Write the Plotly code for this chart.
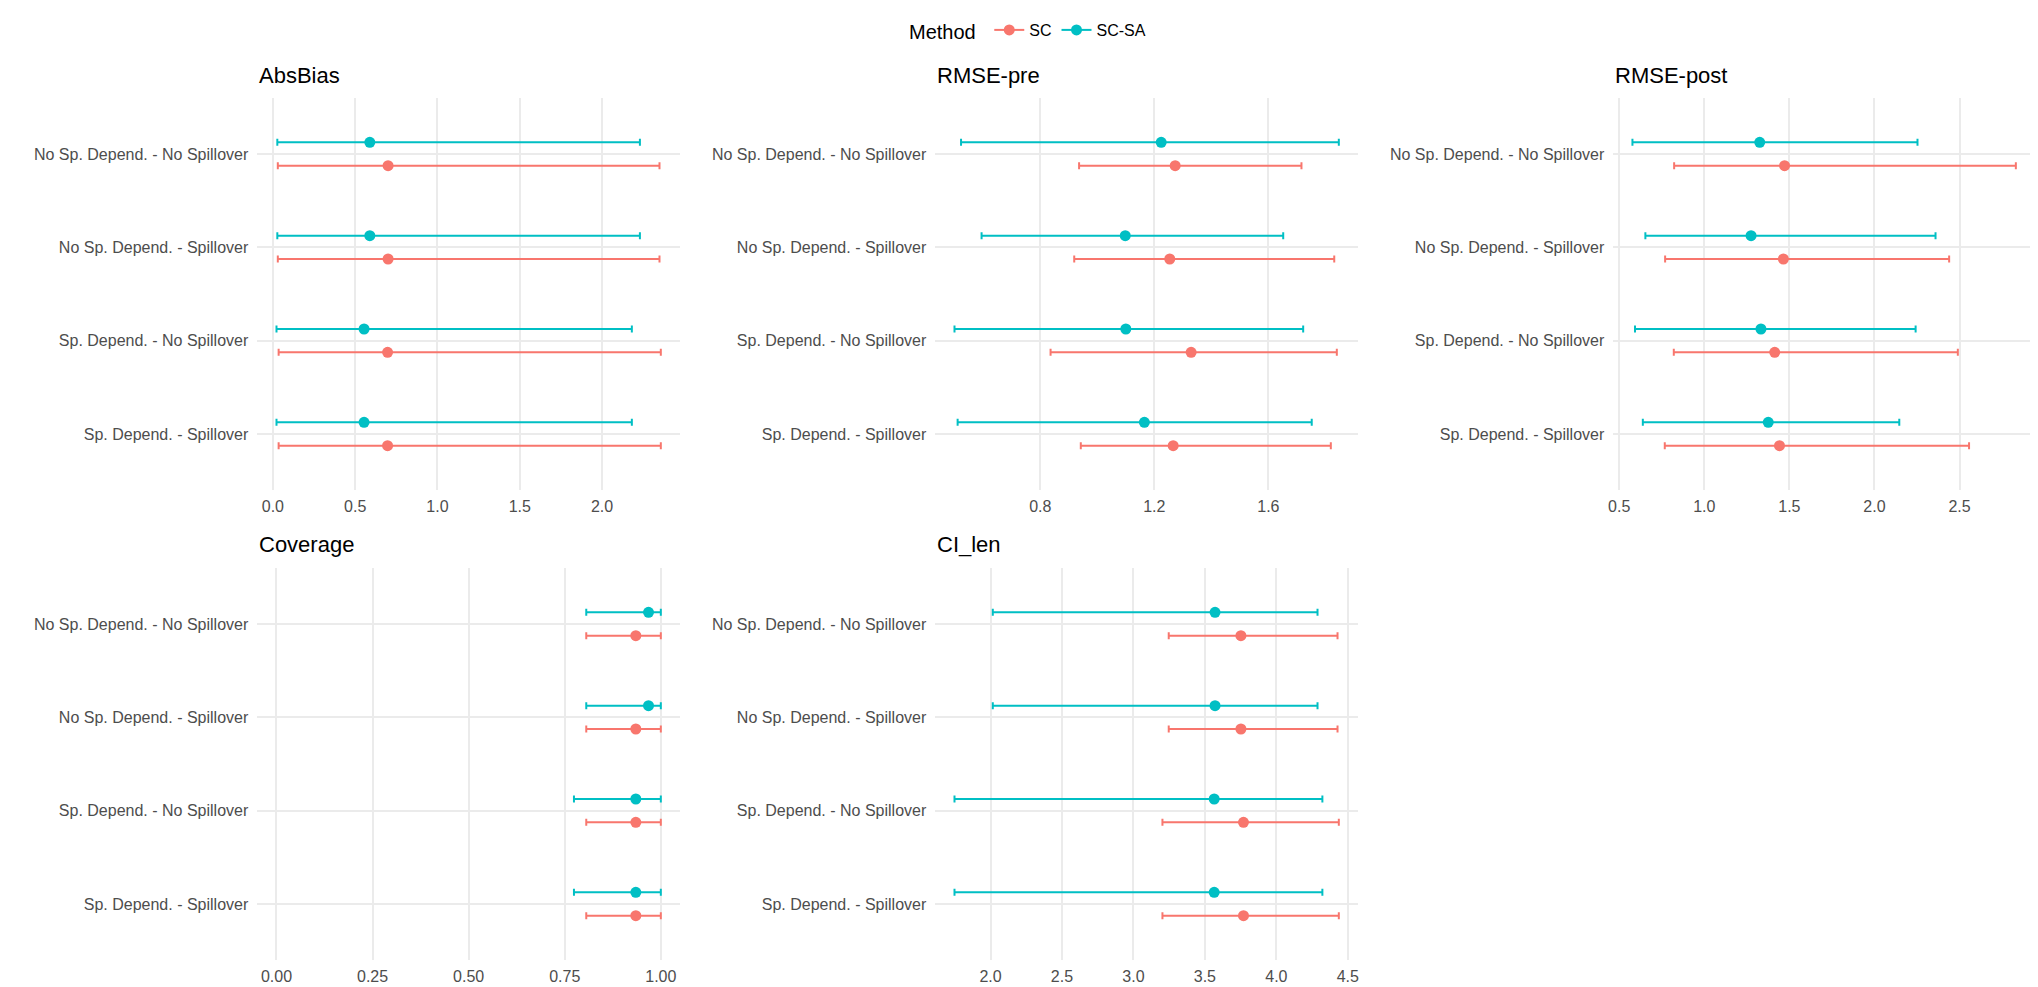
import plotly.graph_objects as go

# ---------------- data ----------------
categories = [
    "No Sp. Depend. - No Spillover",
    "No Sp. Depend. - Spillover",
    "Sp. Depend. - No Spillover",
    "Sp. Depend. - Spillover",
]
metrics = ["AbsBias", "RMSE-pre", "RMSE-post", "Coverage", "CI_len"]
methods = ["SC", "SC-SA"]

absbias_sc_est = [0.700, 0.700, 0.697, 0.697]
absbias_sc_lo = [0.030, 0.030, 0.035, 0.035]
absbias_sc_hi = [2.349, 2.349, 2.357, 2.357]
absbias_sa_est = [0.589, 0.589, 0.554, 0.554]
absbias_sa_lo = [0.027, 0.027, 0.022, 0.022]
absbias_sa_hi = [2.230, 2.230, 2.181, 2.181]

rmsepre_sc_est = [1.273, 1.254, 1.329, 1.266]
rmsepre_sc_lo = [0.936, 0.919, 0.836, 0.942]
rmsepre_sc_hi = [1.716, 1.831, 1.840, 1.819]
rmsepre_sa_est = [1.224, 1.098, 1.100, 1.165]
rmsepre_sa_lo = [0.522, 0.594, 0.499, 0.510]
rmsepre_sa_hi = [1.847, 1.652, 1.722, 1.752]

rmsepost_sc_est = [1.472, 1.465, 1.414, 1.442]
rmsepost_sc_lo = [0.823, 0.770, 0.821, 0.768]
rmsepost_sc_hi = [2.831, 2.439, 2.490, 2.556]
rmsepost_sa_est = [1.326, 1.275, 1.333, 1.376]
rmsepost_sa_lo = [0.578, 0.654, 0.593, 0.639]
rmsepost_sa_hi = [2.253, 2.359, 2.242, 2.146]

coverage_sc_est = [0.935, 0.935, 0.935, 0.935]
coverage_sc_lo = [0.806, 0.806, 0.806, 0.806]
coverage_sc_hi = [1.000, 1.000, 1.000, 1.000]
coverage_sa_est = [0.968, 0.968, 0.935, 0.935]
coverage_sa_lo = [0.806, 0.806, 0.774, 0.774]
coverage_sa_hi = [1.000, 1.000, 1.000, 1.000]
coverage_limits = [0.0, 1.0]

cilen_sc_est = [3.752, 3.752, 3.770, 3.770]
cilen_sc_lo = [3.247, 3.247, 3.203, 3.203]
cilen_sc_hi = [4.428, 4.428, 4.437, 4.437]
cilen_sa_est = [3.571, 3.571, 3.565, 3.565]
cilen_sa_lo = [2.016, 2.016, 1.748, 1.748]
cilen_sa_hi = [4.288, 4.288, 4.322, 4.322]

# ---------------- assemble ----------------
data = {
    "AbsBias": {"SC": (absbias_sc_est, absbias_sc_lo, absbias_sc_hi),
                "SC-SA": (absbias_sa_est, absbias_sa_lo, absbias_sa_hi)},
    "RMSE-pre": {"SC": (rmsepre_sc_est, rmsepre_sc_lo, rmsepre_sc_hi),
                 "SC-SA": (rmsepre_sa_est, rmsepre_sa_lo, rmsepre_sa_hi)},
    "RMSE-post": {"SC": (rmsepost_sc_est, rmsepost_sc_lo, rmsepost_sc_hi),
                  "SC-SA": (rmsepost_sa_est, rmsepost_sa_lo, rmsepost_sa_hi)},
    "Coverage": {"SC": (coverage_sc_est, coverage_sc_lo, coverage_sc_hi),
                 "SC-SA": (coverage_sa_est, coverage_sa_lo, coverage_sa_hi)},
    "CI_len": {"SC": (cilen_sc_est, cilen_sc_lo, cilen_sc_hi),
               "SC-SA": (cilen_sa_est, cilen_sa_lo, cilen_sa_hi)},
}

colors = {"SC": "#F8766D", "SC-SA": "#00BFC4"}
dodge = {"SC": -0.125, "SC-SA": 0.125}
tick_spec = {
    "AbsBias": (0.5, ".1f"),
    "RMSE-pre": (0.4, ".1f"),
    "RMSE-post": (0.5, ".1f"),
    "Coverage": (0.25, ".2f"),
    "CI_len": (0.5, ".1f"),
}

W, H = 2038, 987
# panel boxes in pixels (left, right, top, bottom)
col_x = [(245.0, 669.0), (925.0, 1349.0), (1605.0, 2028.0)]
row_y = [(90, 482), (560, 952)]
title_y = [67, 536]

FONT = "Liberation Sans, Arial, Helvetica, sans-serif"
TICKCOL = "#4D4D4D"
GRID = "#EBEBEB"

fig = go.Figure()
layout = {}
annotations = []
n = len(categories)
ypos = [n - i for i in range(n)]

for k, metric in enumerate(metrics):
    r, c = divmod(k, 3)
    ax = "" if k == 0 else str(k + 1)
    xa, ya = "x" + ax, "y" + ax
    vals_all = []
    for m in methods:
        est, lo, hi = data[metric][m]
        vals_all += lo + hi
        fig.add_trace(go.Scatter(
            x=est,
            y=[p + dodge[m] for p in ypos],
            mode="markers",
            marker=dict(color=colors[m], size=11),
            error_x=dict(type="data", symmetric=False,
                         array=[h - e for h, e in zip(hi, est)],
                         arrayminus=[e - l for e, l in zip(est, lo)],
                         color=colors[m], thickness=2, width=3.5),
            xaxis=xa, yaxis=ya, showlegend=False, hoverinfo="x+y",
        ))
    if metric == "Coverage":
        vmin, vmax = min(coverage_limits + vals_all), max(coverage_limits + vals_all)
    else:
        vmin, vmax = min(vals_all), max(vals_all)
    pad = 0.05 * (vmax - vmin)
    dt, fmt = tick_spec[metric]
    x0, x1 = col_x[c]
    y0, y1 = row_y[r]
    layout["xaxis" + ax] = dict(
        domain=[x0 / W, x1 / W], anchor=ya,
        range=[vmin - pad, vmax + pad],
        tick0=0, dtick=dt, tickformat=fmt,
        showgrid=True, gridcolor=GRID, gridwidth=1.6,
        zeroline=False, showline=False, ticks="",
        tickfont=dict(family=FONT, size=16, color=TICKCOL),
        ticklabelstandoff=5,
    )
    layout["yaxis" + ax] = dict(
        domain=[1 - y1 / H, 1 - y0 / H], anchor=xa,
        range=[0.4, n + 0.6],
        tickmode="array", tickvals=ypos, ticktext=categories,
        showgrid=True, gridcolor=GRID, gridwidth=1.6,
        zeroline=False, showline=False, ticks="",
        tickfont=dict(family=FONT, size=16, color=TICKCOL),
        ticklabelstandoff=8,
    )
    annotations.append(dict(
        text=metric, xref="paper", yref="paper",
        x=x0 / W, y=1 - title_y[r] / H, xanchor="left", yanchor="middle",
        showarrow=False, font=dict(family=FONT, size=22, color="black"),
    ))

# legend-key traces
for m in methods:
    fig.add_trace(go.Scatter(
        x=[None], y=[None], mode="lines+markers", name=m,
        marker=dict(color=colors[m], size=11),
        line=dict(color=colors[m], width=2),
        xaxis="x", yaxis="y", showlegend=True,
    ))

fig.update_layout(
    width=W, height=H,
    margin=dict(l=0, r=0, t=0, b=0),
    paper_bgcolor="white", plot_bgcolor="white",
    font=dict(family=FONT, color="black"),
    annotations=annotations,
    legend=dict(
        orientation="h", x=0.5, xanchor="center", y=1 - 23 / H, yanchor="middle",
        title=dict(text="Method ", font=dict(family=FONT, size=20, color="black"), side="left"),
        font=dict(family=FONT, size=16, color="black"),
        itemwidth=30, bgcolor="rgba(0,0,0,0)",
    ),
    **layout,
)

fig.write_html("out.html")
